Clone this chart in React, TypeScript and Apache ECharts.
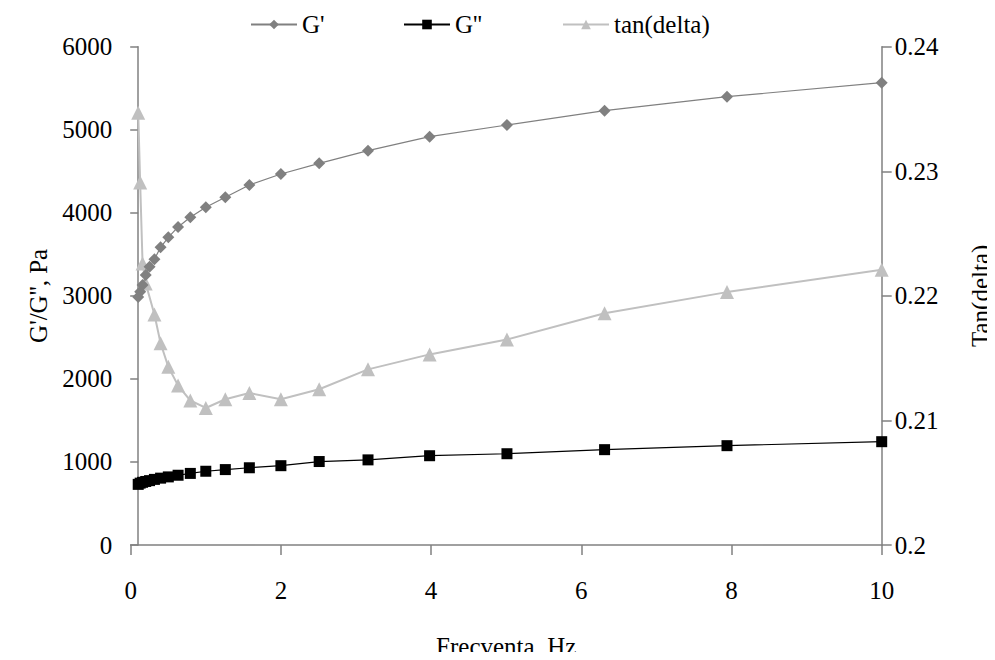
import React, { useEffect, useRef } from "react";
import * as echarts from "echarts";

const freq = [0.1, 0.126, 0.158, 0.2, 0.251, 0.316, 0.398, 0.501, 0.631, 0.794, 1, 1.26, 1.58, 2, 2.51, 3.16, 3.98, 5.01, 6.31, 7.94, 10];
const gPrime = [2985, 3050, 3131, 3251, 3350, 3440, 3585, 3705, 3830, 3946, 4066, 4187, 4335, 4467, 4596, 4748, 4917, 5057, 5230, 5398, 5567];
const gDouble = [730, 745, 755, 765, 775, 790, 805, 820, 840, 862, 888, 908, 930, 955, 1005, 1025, 1075, 1099, 1148, 1196, 1244];
const tanDelta = [0.2347, 0.2291, 0.2226, 0.2210, null, 0.2185, 0.2162, 0.2143, 0.2128, 0.2116, 0.2110, 0.2117, 0.2122, 0.2117, 0.2125, 0.2141, 0.2153, 0.2165, 0.2186, 0.2203, 0.2221];

const leftTicks = { min: 0, max: 6000, interval: 1000 };
const rightTicks = { min: 0.2, max: 0.24, interval: 0.01 };
const xTicks = { min: 0, max: 10, interval: 2 };

const FONT = "Liberation Serif";
const FS = 25;

export default function App() {
  const ref = useRef<HTMLDivElement>(null);
  useEffect(() => {
    if (!ref.current) return;
    const chart = echarts.init(ref.current, undefined, { renderer: "svg" });
    const axisColor = "#808080";
    const labelStyle = { color: "#000", fontFamily: FONT, fontSize: FS };
    const legendBase = {
      top: 7,
      itemWidth: 46,
      itemHeight: 12,
      itemGap: 6,
      textStyle: { ...labelStyle },
    };
    chart.setOption({
      animation: false,
      backgroundColor: "#fff",
      textStyle: { fontFamily: FONT },
      legend: [
        { ...legendBase, left: 245, data: ["G'"] },
        { ...legendBase, left: 398, data: ["G''"] },
        { ...legendBase, left: 557, data: ["tan(delta)"] },
      ],
      grid: {
        left: 130.7,
        right: 113.3,
        top: 46.7,
        bottom: 115,
        containLabel: false,
        outerBoundsMode: "none",
      },
      xAxis: {
        type: "value",
        ...xTicks,
        name: "Frecventa, Hz",
        nameLocation: "middle",
        nameGap: 89,
        nameTextStyle: { ...labelStyle },
        axisLine: { show: true, lineStyle: { color: axisColor, width: 1.5 } },
        axisTick: { show: true, length: 10, lineStyle: { color: axisColor, width: 1.5 } },
        axisLabel: { ...labelStyle, margin: 33 },
        splitLine: { show: false },
      },
      yAxis: [
        {
          type: "value",
          ...leftTicks,
          position: "left",
          offset: -7.5,
          name: "G'/G'', Pa",
          nameLocation: "middle",
          nameGap: 82,
          nameRotate: 90,
          nameTextStyle: { ...labelStyle },
          axisLine: { show: true, lineStyle: { color: axisColor, width: 1.5 } },
          axisTick: { show: true, length: 8, lineStyle: { color: axisColor, width: 1.5 } },
          axisLabel: { ...labelStyle, margin: 26, formatter: (v: number) => String(v) },
          splitLine: { show: false },
        },
        {
          type: "value",
          ...rightTicks,
          position: "right",
          name: "Tan(delta)",
          nameLocation: "middle",
          nameGap: 86,
          nameRotate: 90,
          nameTextStyle: { ...labelStyle },
          axisLine: { show: true, lineStyle: { color: axisColor, width: 1.5 } },
          axisTick: { show: true, length: 10, lineStyle: { color: axisColor, width: 1.5 } },
          axisLabel: {
            ...labelStyle,
            margin: 13,
            formatter: (v: number) => String(+v.toFixed(2)),
          },
          splitLine: { show: false },
        },
      ],
      series: [
        {
          name: "G'",
          type: "line",
          yAxisIndex: 0,
          data: freq.map((f, i) => [f, gPrime[i]]),
          symbol: "diamond",
          symbolSize: 12,
          itemStyle: { color: "#808080" },
          lineStyle: { color: "#808080", width: 1.2 },
          z: 3,
        },
        {
          name: "G''",
          type: "line",
          yAxisIndex: 0,
          data: freq.map((f, i) => [f, gDouble[i]]),
          symbol: "rect",
          symbolSize: 11,
          itemStyle: { color: "#000" },
          lineStyle: { color: "#000", width: 1.2 },
          z: 4,
        },
        {
          name: "tan(delta)",
          type: "line",
          yAxisIndex: 1,
          connectNulls: true,
          data: freq.map((f, i) => [f, tanDelta[i]]).filter((d) => d[1] !== null),
          symbol: "triangle",
          symbolSize: 14,
          itemStyle: { color: "#c0c0c0" },
          lineStyle: { color: "#c0c0c0", width: 2 },
          z: 2,
        },
      ],
    });
    return () => chart.dispose();
  }, []);
  return <div ref={ref} style={{ width: 995, height: 660, margin: -8 }} />;
}
